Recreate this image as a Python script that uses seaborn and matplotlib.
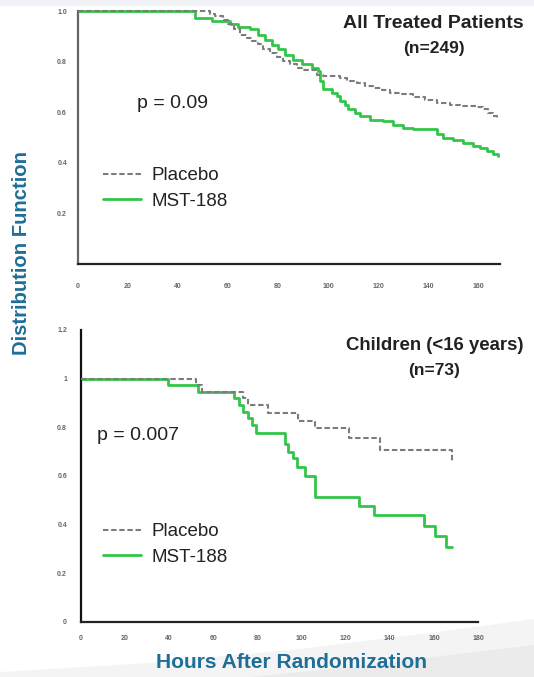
import numpy as np
import pandas as pd
import matplotlib
matplotlib.use("Agg")
import matplotlib.pyplot as plt
from matplotlib.patches import Polygon, Rectangle
import seaborn as sns

# ---------------- data ----------------
# Top panel: All Treated Patients (n=249)
top_placebo_t = [0, 52.8, 54.8, 58, 60, 62.5, 64.8, 67.5, 69.5, 72, 74, 76.8, 79.5, 82, 84.8,
                 87.5, 90, 95.5, 98, 104.8, 107.5, 111.5, 114.8, 118, 121.5, 124.8, 128.8,
                 134, 138.8, 143.5, 148.8, 152.8, 159.5, 162, 164, 166, 167.5]
top_placebo_s = [1.0, 0.989, 0.98, 0.966, 0.95, 0.93, 0.907, 0.894, 0.881, 0.868, 0.848, 0.835,
                 0.818, 0.802, 0.789, 0.776, 0.765, 0.749, 0.742, 0.736, 0.722, 0.716, 0.703,
                 0.696, 0.687, 0.677, 0.67, 0.661, 0.65, 0.637, 0.63, 0.626, 0.621, 0.611,
                 0.598, 0.584, 0.571]
top_mst_t = [0, 46.8, 53.5, 60.8, 64, 68.8, 72, 74.8, 77.5, 80, 82.8, 86, 89.5, 93.5, 96,
             96.8, 98, 101.5, 103.5, 104.8, 106.8, 108, 110.8, 112.8, 116.8, 122, 126, 130,
             134, 143.5, 146, 150, 154, 158, 160.8, 163.5, 166, 168]
top_mst_s = [1.0, 0.973, 0.962, 0.947, 0.936, 0.927, 0.907, 0.887, 0.867, 0.848, 0.828, 0.808,
             0.791, 0.776, 0.762, 0.722, 0.69, 0.677, 0.663, 0.645, 0.63, 0.613, 0.598, 0.584,
             0.571, 0.564, 0.551, 0.538, 0.532, 0.512, 0.499, 0.492, 0.479, 0.466, 0.459,
             0.446, 0.433, 0.426]

# Bottom panel: Children (<16 years) (n=73)
bot_placebo_t = [0, 52, 55, 73.5, 75.5, 85, 98.5, 106, 121.5, 135.5, 168]
bot_placebo_s = [1.0, 0.973, 0.946, 0.92, 0.893, 0.858, 0.826, 0.797, 0.756, 0.706, 0.658]
bot_mst_t = [0, 39.5, 53, 69.5, 71.5, 73.5, 75.5, 77.5, 79.5, 92.5, 94, 96, 98, 101.5, 106,
             126, 133, 155.4, 160.4, 165.7, 168]
bot_mst_s = [1.0, 0.973, 0.946, 0.919, 0.892, 0.865, 0.838, 0.811, 0.777, 0.73, 0.7, 0.672,
             0.635, 0.6, 0.512, 0.476, 0.44, 0.394, 0.353, 0.31, 0.31]

series_names = ["Placebo", "MST-188"]
top_x_ticks = [0, 20, 40, 60, 80, 100, 120, 140, 160]
top_y_ticks = [0, 0.2, 0.4, 0.6, 0.8, 1.0]
top_y_labels = ["", "0.2", "0.4", "0.6", "0.8", "1.0"]
bot_x_ticks = [0, 20, 40, 60, 80, 100, 120, 140, 160, 180]
bot_y_ticks = [0, 0.2, 0.4, 0.6, 0.8, 1.0, 1.2]
bot_y_labels = ["0", "0.2", "0.4", "0.6", "0.8", "1", "1.2"]

# ---------------- style ----------------
sns.set_style("white")
plt.rcParams["font.family"] = ["Liberation Sans", "DejaVu Sans"]

GREEN = "#33c54a"
GRAY = "#7c7c7c"
TEAL = "#1f6e98"
W, H = 534, 677

fig = plt.figure(figsize=(5.34, 6.77), dpi=100)

# subtle slide background decoration
fig.add_artist(Rectangle((0, 1 - 6 / H), 1, 6 / H, transform=fig.transFigure,
                         facecolor="#f0f2f5", edgecolor="none", zorder=0))
swoosh = [(0, 0), (0, 5 / H), (150 / W, 14 / H), (300 / W, 28 / H), (430 / W, 44 / H),
          (534 / W, 58 / H), (1, 0)]
fig.add_artist(Polygon(swoosh, closed=True, transform=fig.transFigure,
                       facecolor="#f4f4f4", edgecolor="none", zorder=0))
swoosh2 = [(250 / W, 0), (350 / W, 10 / H), (450 / W, 22 / H), (1, 32 / H), (1, 0)]
fig.add_artist(Polygon(swoosh2, closed=True, transform=fig.transFigure,
                       facecolor="#ebebeb", edgecolor="none", zorder=0))

ax1 = fig.add_axes([78 / W, 1 - 264 / H, 422 / W, 253 / H])
ax2 = fig.add_axes([81 / W, 1 - 622 / H, 397 / W, 292 / H])


def draw(ax, pt, ps, mt, ms):
    dfp = pd.DataFrame({"t": pt, "s": ps})
    dfm = pd.DataFrame({"t": mt, "s": ms})
    sns.lineplot(data=dfp, x="t", y="s", ax=ax, drawstyle="steps-post", color=GRAY,
                 linestyle=(0, (2.6, 1.3)), linewidth=1.5, estimator=None, sort=False,
                 label=series_names[0], legend=False, clip_on=False, zorder=3)
    sns.lineplot(data=dfm, x="t", y="s", ax=ax, drawstyle="steps-post", color=GREEN,
                 linewidth=2.0, estimator=None, sort=False, label=series_names[1],
                 legend=False, clip_on=False, zorder=2)


draw(ax1, top_placebo_t, top_placebo_s, top_mst_t, top_mst_s)
draw(ax2, bot_placebo_t, bot_placebo_s, bot_mst_t, bot_mst_s)

ax1.set_xlim(0, 168.8)
ax1.set_ylim(0, 1.0)
ax2.set_xlim(0, 180)
ax2.set_ylim(0, 1.2)

for ax, xt, yt, yl, spc, pad in [(ax1, top_x_ticks, top_y_ticks, top_y_labels, "#666666", 5),
                                 (ax2, bot_x_ticks, bot_y_ticks, bot_y_labels, "#111111", 7)]:
    ax.set_xticks(xt)
    ax.set_xticklabels([str(v) for v in xt])
    ax.set_yticks(yt)
    ax.set_yticklabels(yl)
    ax.set_xlabel("")
    ax.set_ylabel("")
    for s in ["top", "right"]:
        ax.spines[s].set_visible(False)
    ax.spines["left"].set_color(spc)
    ax.spines["bottom"].set_color("#222222")
    ax.spines["left"].set_linewidth(1.6)
    ax.spines["bottom"].set_linewidth(1.6)
    ax.tick_params(axis="both", direction="out", length=3, width=1.2, color="#222222",
                   labelsize=5, labelcolor="#666666")
    ax.tick_params(axis="y", pad=pad)
    ax.tick_params(axis="x", pad=11 if ax is ax1 else 6)
    for lab in ax.get_xticklabels() + ax.get_yticklabels():
        lab.set_fontweight("bold")
    ax.set_facecolor("none")

# panel titles
fig.text(524 / W, 1 - 24 / H, "All Treated Patients", ha="right", va="center",
         fontsize=14, fontweight="bold", color="#222222")
fig.text(434 / W, 1 - 49 / H, "(n=249)", ha="center", va="center",
         fontsize=12.5, fontweight="bold", color="#222222")
fig.text(523 / W, 1 - 346 / H, "Children (<16 years)", ha="right", va="center",
         fontsize=13.4, fontweight="bold", color="#222222")
fig.text(434 / W, 1 - 370 / H, "(n=73)", ha="center", va="center",
         fontsize=12.5, fontweight="bold", color="#222222")

fig.text(137 / W, 1 - 103 / H, "p = 0.09", ha="left", va="center",
         fontsize=14, color="#222222")
fig.text(97 / W, 1 - 435 / H, "p = 0.007", ha="left", va="center",
         fontsize=14, color="#222222")

# legends
for ax, ytop in ((ax1, 167), (ax2, 523)):
    leg = ax.legend(loc="upper left", bbox_to_anchor=(103 / W, 1 - ytop / H),
                    bbox_transform=fig.transFigure, frameon=False, fontsize=13.5,
                    handlelength=2.0, handletextpad=0.6, labelspacing=0.45, borderaxespad=0,
                    borderpad=0)
    for t in leg.get_texts():
        t.set_color("#222222")

fig.text(22 / W, 1 - 253 / H, "Distribution Function", rotation=90, ha="center",
         va="center", fontsize=14.6, fontweight="bold", color=TEAL)
fig.text(292 / W, 1 - 662 / H, "Hours After Randomization", ha="center", va="center",
         fontsize=15.1, fontweight="bold", color=TEAL)

fig.savefig("out.png", dpi=100)
